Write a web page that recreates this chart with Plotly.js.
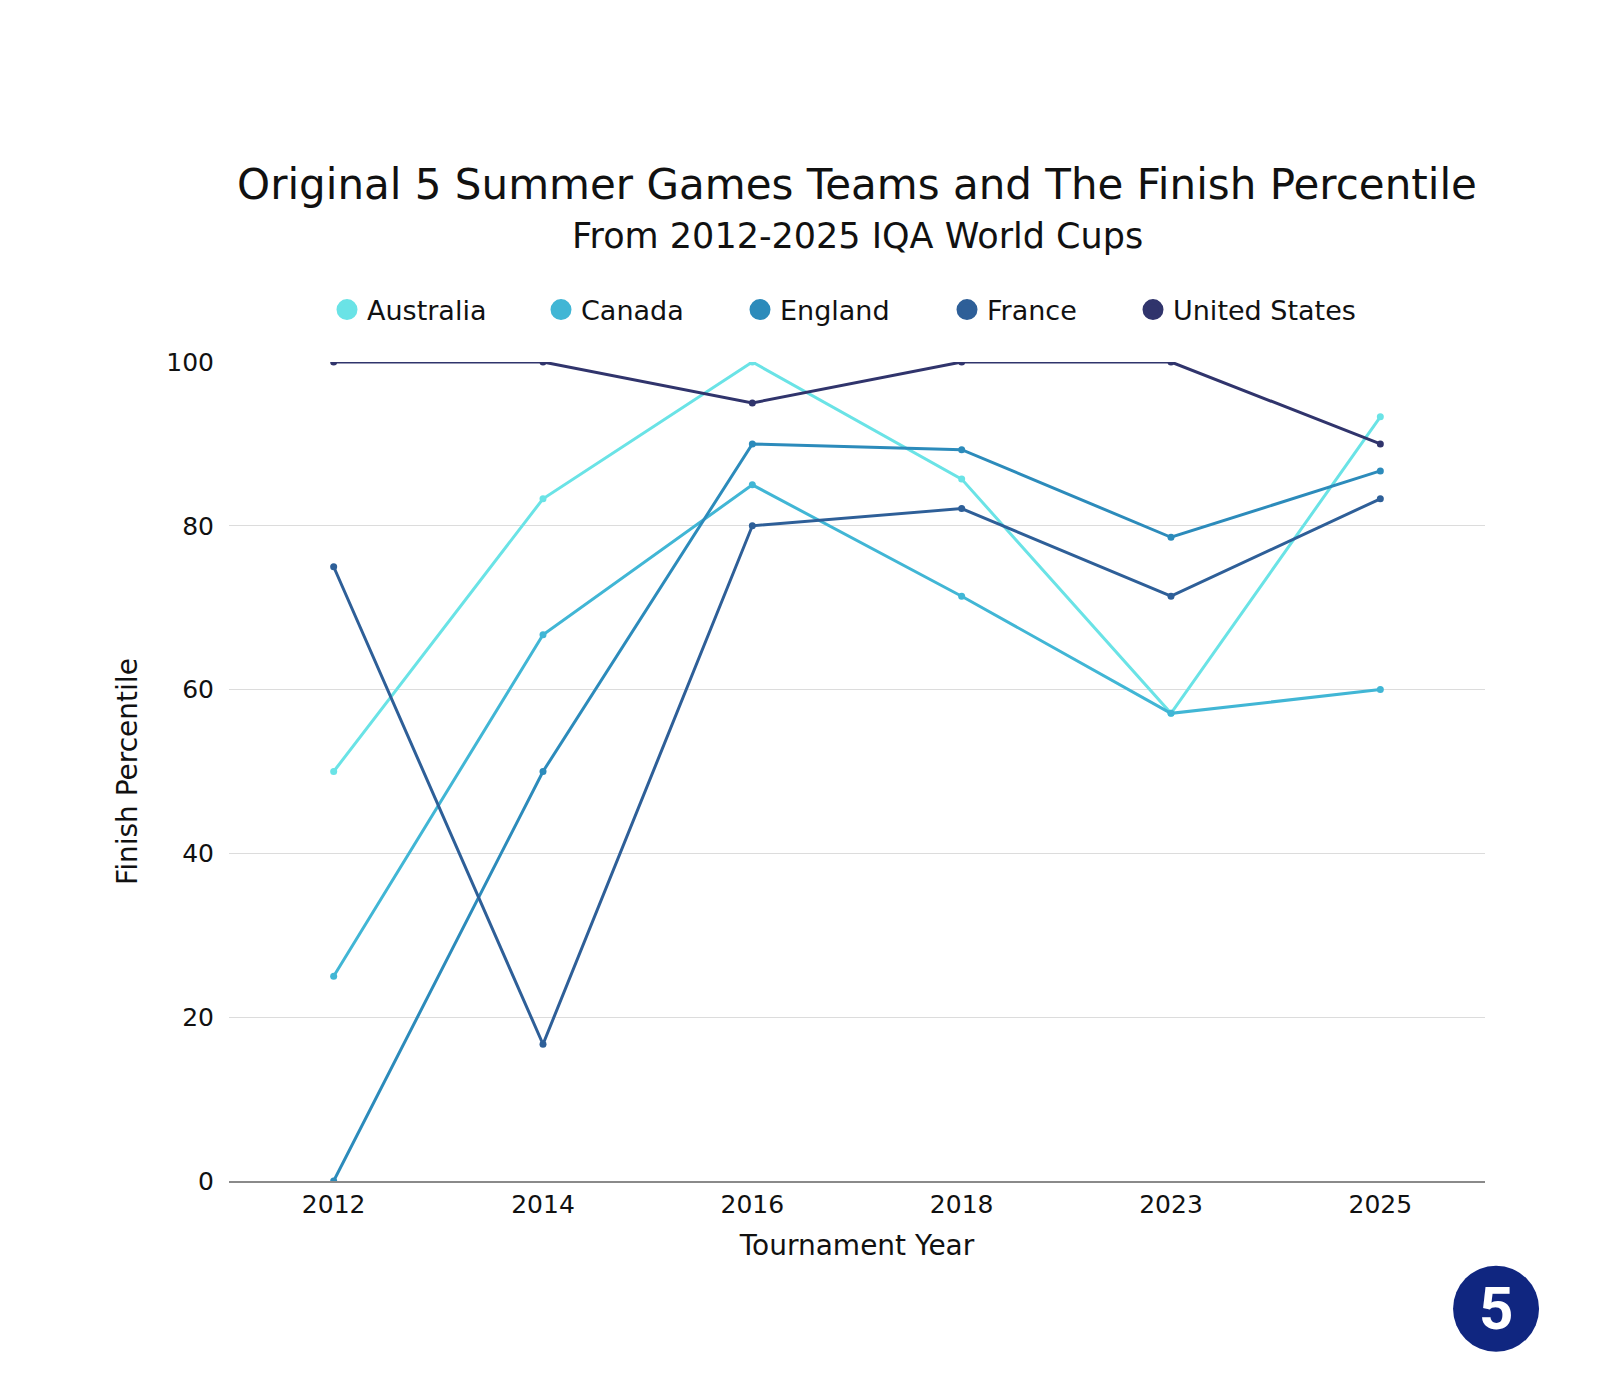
<!DOCTYPE html>
<html>
<head>
<meta charset="utf-8">
<script src="https://cdn.plot.ly/plotly-3.0.1.min.js"></script>
<style>html,body{margin:0;padding:0;background:#fff;}#chart{width:1600px;height:1400px;}</style>
</head>
<body>
<div id="chart"></div>
<script>
const years = ["2012", "2014", "2016", "2018", "2023", "2025"];
const teams = ["Australia", "Canada", "England", "France", "United States"];
const australia = [50, 83.3, 100, 85.7, 57.1, 93.3];
const canada = [25, 66.7, 85, 71.4, 57.1, 60];
const england = [0, 50, 90, 89.3, 78.6, 86.7];
const france = [75, 16.7, 80, 82.1, 71.4, 83.3];
const unitedStates = [100, 100, 95, 100, 100, 90];
const colors = ["#6ae3e6", "#41b6d5", "#2c8bbb", "#2e5f98", "#30346c"];
const yTicks = [0, 20, 40, 60, 80, 100];
const titleText = "Original 5 Summer Games Teams and The Finish Percentile";
const subtitleText = "From 2012-2025 IQA World Cups";

const seriesValues = [australia, canada, england, france, unitedStates];
const FONT = "'DejaVu Sans', sans-serif";

// legend circle centres in pixels (page coords), used to place one legend per team
const legendCentres = [352, 566, 765, 972, 1158];
const legendIds = ["legend", "legend2", "legend3", "legend4", "legend5"];
const PLOT_L = 229, PLOT_W = 1256, PLOT_B = 1181, PLOT_H = 819;

const traces = [];
teams.forEach((name, i) => {
  traces.push({
    type: "scatter", mode: "lines+markers", name: name, x: years, y: seriesValues[i],
    line: {color: colors[i], width: 3}, marker: {color: colors[i], size: 7},
    showlegend: false, legendgroup: name, hoverinfo: "x+y+name"
  });
});
teams.forEach((name, i) => {
  traces.push({
    type: "scatter", mode: "markers", name: name, x: [null], y: [null],
    marker: {color: colors[i], size: 16, line: {color: colors[i], width: 5}},
    showlegend: true, legendgroup: name, legend: legendIds[i], hoverinfo: "skip"
  });
});

const legendStyle = (i) => ({
  orientation: "h",
  x: (legendCentres[i] - 25 - PLOT_L) / PLOT_W, xanchor: "left",
  y: (PLOT_B - 310) / PLOT_H, yanchor: "middle",
  font: {family: FONT, size: 27, color: "#111111"},
  bgcolor: "rgba(0,0,0,0)", borderwidth: 0,
  itemclick: false, itemdoubleclick: false
});

const layout = {
  width: 1600, height: 1400,
  paper_bgcolor: "#ffffff", plot_bgcolor: "#ffffff",
  margin: {l: 229, r: 115, t: 362, b: 219},
  font: {family: FONT, color: "#111111", size: 26},
  title: {
    text: titleText,
    font: {family: FONT, size: 42, color: "#111111"},
    x: 0.5, xref: "paper", xanchor: "center",
    y: 1 - 184/1400, yref: "container", yanchor: "middle"
  },
  showlegend: true,
  legend: legendStyle(0),
  legend2: legendStyle(1),
  legend3: legendStyle(2),
  legend4: legendStyle(3),
  legend5: legendStyle(4),
  xaxis: {
    type: "category", categoryorder: "array", categoryarray: years,
    range: [-0.5, 5.5],
    showgrid: false, zeroline: false, showline: true, linecolor: "#8a8a8a", linewidth: 1.5,
    ticks: "", tickfont: {family: FONT, size: 25, color: "#111111"},
    title: {text: "Tournament Year", font: {family: FONT, size: 28, color: "#111111"}, standoff: 18}
  },
  yaxis: {
    range: [0, 100], tickvals: yTicks, ticktext: yTicks.map(String),
    showgrid: true, gridcolor: "#dcdcdc", gridwidth: 1, zeroline: false, showline: false,
    ticks: "", ticklabelstandoff: 14,
    tickfont: {family: FONT, size: 25, color: "#111111"},
    title: {text: "Finish Percentile", font: {family: FONT, size: 28, color: "#111111"}, standoff: 20}
  },
  shapes: [{
    type: "circle", xref: "paper", yref: "paper",
    xsizemode: "pixel", ysizemode: "pixel",
    xanchor: 1.0088, yanchor: -0.156,
    x0: -43, x1: 43, y0: -43, y1: 43,
    fillcolor: "#102680", line: {width: 0}
  }],
  annotations: [
    {
      xref: "paper", yref: "paper", x: 0.5, y: (PLOT_B - 236) / PLOT_H,
      xanchor: "center", yanchor: "middle", showarrow: false,
      text: subtitleText, font: {family: FONT, size: 35, color: "#111111"}
    },
    {
      xref: "paper", yref: "paper", x: 1.0088, y: -0.156,
      xanchor: "center", yanchor: "middle", showarrow: false,
      text: "<b>5</b>", font: {family: "Roboto, sans-serif", size: 60, color: "#ffffff"}
    }
  ]
};

Plotly.newPlot("chart", traces, layout, {displayModeBar: false});
</script>
</body>
</html>
